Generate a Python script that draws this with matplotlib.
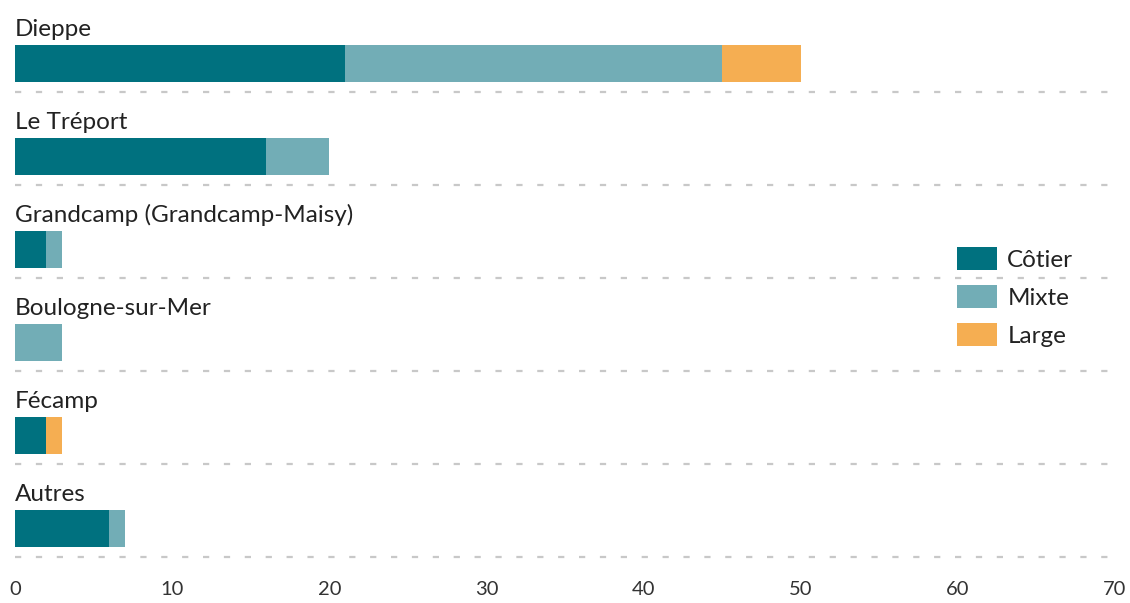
import matplotlib.pyplot as plt
import numpy as np

ports = ['Dieppe', 'Le Tréport', 'Grandcamp (Grandcamp-Maisy)',
         'Boulogne-sur-Mer', 'Fécamp', 'Autres']
cotier = [21, 16, 2, 0, 2, 6]
mixte = [24, 4, 1, 3, 0, 1]
large = [5, 0, 0, 0, 1, 0]
series = ['Côtier', 'Mixte', 'Large']
colors = ['#00717f', '#72adb6', '#f5ae52']
xticks = [0, 10, 20, 30, 40, 50, 60, 70]

plt.rcParams['font.family'] = ['Lato', 'DejaVu Sans']

fig = plt.figure(figsize=(11.3, 6.03), dpi=100)
ax = fig.add_axes([15 / 1130, (603 - 557) / 603, 1100 / 1130, 558 / 603])

y = np.arange(len(ports))
bar_y = y + 0.194
left = np.zeros(len(ports))
for vals, name, col in zip([cotier, mixte, large], series, colors):
    vals = np.array(vals)
    ax.barh(bar_y, vals, left=left, height=0.40, color=col, label=name,
            edgecolor='none')
    left += vals

for i, p in enumerate(ports):
    ax.text(0, i - 0.1, p, fontsize=17.5, color='#222222', va='baseline', ha='left')
    ax.plot([0, 70], [i + 0.5, i + 0.5], color='#c8c8c8', lw=1.6,
            dashes=(2.8, 6.6), solid_capstyle='butt', dash_capstyle='butt',
            clip_on=False)

ax.set_xlim(0, 70)
ax.set_ylim(5.5, -0.5)
ax.set_xticks(xticks)
ax.set_yticks([])
ax.tick_params(axis='x', length=0, pad=17, labelsize=14.5, labelcolor='#333333')
for s in ax.spines.values():
    s.set_visible(False)

leg = ax.legend(loc='upper left', bbox_to_anchor=(957 / 1130, 1 - 247 / 603),
                bbox_transform=fig.transFigure, frameon=False, fontsize=17.5,
                borderpad=0, borderaxespad=0, handlelength=1.65, handleheight=1.05,
                labelspacing=0.6, handletextpad=0.42)
for t in leg.get_texts():
    t.set_color('#222222')

fig.savefig('out.png', dpi=100)
